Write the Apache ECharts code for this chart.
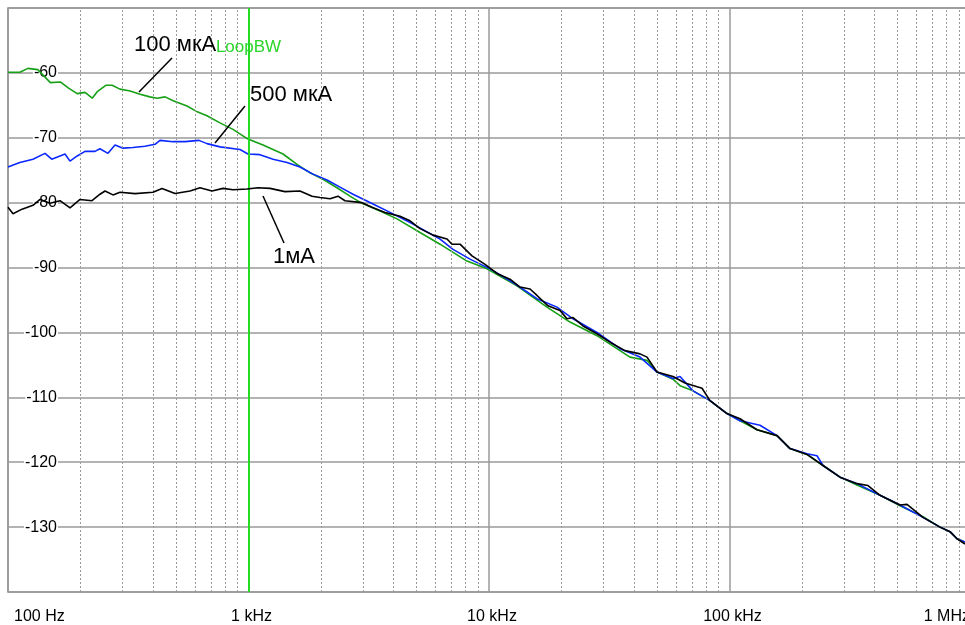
<!DOCTYPE html>
<html>
<head>
<meta charset="utf-8">
<script src="https://cdn.jsdelivr.net/npm/echarts@6/dist/echarts.min.js"></script>
<style>
html,body{margin:0;padding:0;background:#fff;overflow:hidden;}
#chart{width:965px;height:625px;}
</style>
</head>
<body>
<div id="chart"></div>
<script>
// ---- data ----
const seriesNames = ['100 мкА', '500 мкА', '1мА'];

const freq100uA = [100,112,121,133,150,165,178,194,209,224,235,256,271,292,322,354,389,417,450,486,555,605,672,761,862,995,1149,1392,1591,1802,2041,2333,2642,2965,3522,4146,5166,6257,8100,9810,13074,17420,21720,28120,38570,45400,49940,58230,62270,70500,82980,97630,110600,130150,157600,178500,210000,244800,288100,338900,422600,511700,637700,750600,825700,883000,953200];
const noise100uA = [-59.9,-59.9,-59.3,-59.5,-61.5,-61.4,-62.3,-63.2,-63.0,-63.9,-62.9,-61.9,-61.9,-62.5,-62.8,-63.3,-63.7,-63.9,-63.7,-64.3,-65.1,-65.9,-66.6,-67.7,-68.7,-70.2,-71.1,-72.5,-74.1,-75.4,-76.4,-77.7,-79.0,-80.1,-81.3,-82.5,-84.6,-86.4,-89.0,-90.2,-92.8,-96.1,-98.4,-100.5,-103.8,-104.3,-106.1,-107.2,-108.2,-109.0,-110.5,-112.5,-113.6,-115.0,-115.9,-117.9,-118.8,-120.5,-122.3,-123.5,-125.1,-126.7,-128.4,-130.0,-130.7,-131.8,-132.3];

const freq500uA = [100,112,127,142.5,152,164.5,172.6,181,194,209,230,241,260.5,278.6,300.8,331,371,408.6,428.5,485.5,544.5,622.5,672,761,922,995,1116,1265,1446,1637,1854,2121,2401,2720,3294,3877,4831,6257,7087,8337,10097,12583,15834,19170,22360,28120,35050,42460,49940,58230,62270,70500,82980,97630,110600,133900,157600,178500,210000,231100,244800,288100,338900,422600,511700,637700,750600,825700,883000,953200];
const noise500uA = [-74.5,-73.8,-73.3,-72.4,-73.3,-72.8,-72.5,-73.6,-72.8,-72.1,-72.1,-71.7,-72.4,-71.1,-71.6,-71.5,-71.3,-71.0,-70.4,-70.6,-70.6,-70.4,-70.9,-71.4,-71.8,-72.5,-72.6,-73.3,-73.8,-74.5,-75.6,-76.5,-77.6,-78.7,-80.2,-81.5,-83.3,-85.6,-87.2,-88.7,-90.2,-92.3,-94.8,-96.1,-97.9,-100.0,-102.5,-103.8,-106.1,-107.1,-106.8,-109.0,-110.5,-112.5,-113.6,-114.3,-115.9,-117.9,-118.7,-119.0,-120.5,-122.3,-123.3,-125.1,-126.6,-128.5,-130.0,-130.7,-131.8,-132.3];

const freq1mA = [100,104.9,114.4,127,135.9,149.5,164.5,181.1,199.3,223.5,241.3,253.2,273.3,292.2,337.4,400.8,436.8,494.9,571.3,628.5,705.2,783.4,862.2,985.8,1095,1229,1418,1637,1837,1983,2183,2356,2519,2965,3262,3694,4266,4694,5166,5851,6690,7019,7576,8498,9626,10900,12226,13455,14808,15834,17590,19730,21100,22360,24600,28120,31850,36770,42460,45400,49940,58230,65310,76870,82980,97630,110600,130150,157600,178500,210000,244800,288100,338900,376600,422600,511700,547100,637700,750600,825700,883000,953200];
const noise1mA = [-80.7,-81.7,-81.0,-80.4,-79.5,-80.1,-79.7,-80.8,-79.5,-79.7,-78.7,-78.2,-78.8,-78.4,-78.6,-78.4,-77.8,-78.6,-78.2,-77.7,-78.2,-77.8,-78.0,-77.9,-77.7,-77.8,-78.3,-78.2,-79.0,-79.2,-79.4,-79.0,-79.7,-80.0,-80.7,-81.5,-82.1,-82.8,-84.0,-85.0,-85.6,-86.4,-86.4,-88.2,-89.5,-91.0,-91.8,-93.0,-93.3,-94.3,-95.9,-96.6,-97.9,-97.7,-99.0,-100.2,-101.5,-102.8,-103.3,-103.8,-106.1,-106.8,-107.8,-108.6,-110.5,-112.5,-113.3,-115.0,-115.9,-117.9,-118.8,-120.5,-122.3,-123.3,-123.6,-125.1,-126.6,-126.5,-128.5,-130.0,-130.7,-131.8,-132.6];

const xTickValues = [100, 1000, 10000, 100000, 1000000];
const xTickLabels = ['100 Hz', '1 kHz', '10 kHz', '100 kHz', '1 MHz'];
const minorFreqs = [200,300,400,500,600,700,800,900,2000,3000,4000,5000,6000,7000,8000,9000,20000,30000,40000,50000,60000,70000,80000,90000,200000,300000,400000,500000,600000,700000,800000,900000];
const loopBW = 1000;
const loopBWLabel = 'LoopBW';
const yMin = -140, yMax = -50, yStep = 10;

// ---- chart ----
const FONT = "'Liberation Sans', Arial, sans-serif";
const zip = (xs, ys) => xs.map((x, i) => [x, ys[i]]);
const chart = echarts.init(document.getElementById('chart'), null, {renderer: 'canvas'});

const option = {
  animation: false,
  backgroundColor: '#fff',
  grid: {left: 8, width: 962, top: 8, height: 584, show: true, borderColor: '#8a8a8a', borderWidth: 1.5,
         backgroundColor: 'transparent', containLabel: false, outerBoundsMode: 'none'},
  xAxis: {
    type: 'log', logBase: 10, min: 100, max: 1000000,
    axisLine: {show: false}, axisTick: {show: false},
    splitLine: {show: true, lineStyle: {color: '#9a9a9a', width: 1.5}},
    axisLabel: {
      fontFamily: FONT, fontSize: 16, color: '#000', margin: 17,
      padding: [0, 0, 0, 6],
      alignMinLabel: 'left', alignMaxLabel: 'right',
      formatter: v => { const i = xTickValues.findIndex(t => Math.abs(t - v) / t < 1e-6); return i >= 0 ? xTickLabels[i] : ''; }
    }
  },
  yAxis: {
    type: 'value', min: yMin, max: yMax, interval: yStep,
    axisLine: {show: false}, axisTick: {show: false},
    splitLine: {show: true, lineStyle: {color: '#9a9a9a', width: 1.5}},
    axisLabel: {
      fontFamily: FONT, fontSize: 16, color: '#000', margin: -50, align: 'right',
      backgroundColor: '#fff', padding: [0, 1, 0, 1],
      showMinLabel: false, showMaxLabel: false
    }
  },
  series: [
    {
      name: 'minor', type: 'line', data: [], z: 1, silent: true,
      markLine: {
        silent: true, symbol: ['none', 'none'], label: {show: false}, animation: false,
        lineStyle: {type: [2, 2], color: '#9a9a9a', width: 1},
        data: minorFreqs.map(v => ({xAxis: v}))
      }
    },
    {
      name: seriesNames[0], type: 'line', data: zip(freq100uA, noise100uA), z: 3,
      showSymbol: false, lineStyle: {color: '#16a016', width: 1.6}, itemStyle: {color: '#16a016'}
    },
    {
      name: seriesNames[1], type: 'line', data: zip(freq500uA, noise500uA), z: 4,
      showSymbol: false, lineStyle: {color: '#0a28ff', width: 1.6}, itemStyle: {color: '#0a28ff'}
    },
    {
      name: seriesNames[2], type: 'line', data: zip(freq1mA, noise1mA), z: 5,
      showSymbol: false, lineStyle: {color: '#000', width: 1.6}, itemStyle: {color: '#000'}
    },
    {
      name: 'loop', type: 'line', data: [], z: 6, silent: true,
      markLine: {
        silent: true, symbol: ['none', 'none'], label: {show: false}, animation: false,
        lineStyle: {type: 'solid', color: '#22dd22', width: 2},
        data: [{xAxis: loopBW}]
      },
      markPoint: {
        silent: true, symbol: 'circle', symbolSize: 0, animation: false,
        label: {show: true, position: 'inside', formatter: loopBWLabel, color: '#2ad52a', fontFamily: FONT, fontSize: 17},
        data: [{coord: [loopBW, -56]}]
      }
    }
  ],
  graphic: [
    {type: 'text', left: 134, top: 34, z: 10, style: {text: seriesNames[0], font: '22px ' + FONT, fill: '#000'}},
    {type: 'line', z: 10, shape: {x1: 172, y1: 58, x2: 139, y2: 92}, style: {stroke: '#000', lineWidth: 1.5}},
    {type: 'text', left: 250, top: 84, z: 10, style: {text: seriesNames[1], font: '22px ' + FONT, fill: '#000'}},
    {type: 'line', z: 10, shape: {x1: 245, y1: 106, x2: 215, y2: 143}, style: {stroke: '#000', lineWidth: 1.5}},
    {type: 'text', left: 273, top: 246, z: 10, style: {text: seriesNames[2], font: '22px ' + FONT, fill: '#000'}},
    {type: 'line', z: 10, shape: {x1: 263, y1: 196, x2: 284, y2: 243}, style: {stroke: '#000', lineWidth: 1.5}}
  ]
};
chart.setOption(option);
</script>
</body>
</html>
